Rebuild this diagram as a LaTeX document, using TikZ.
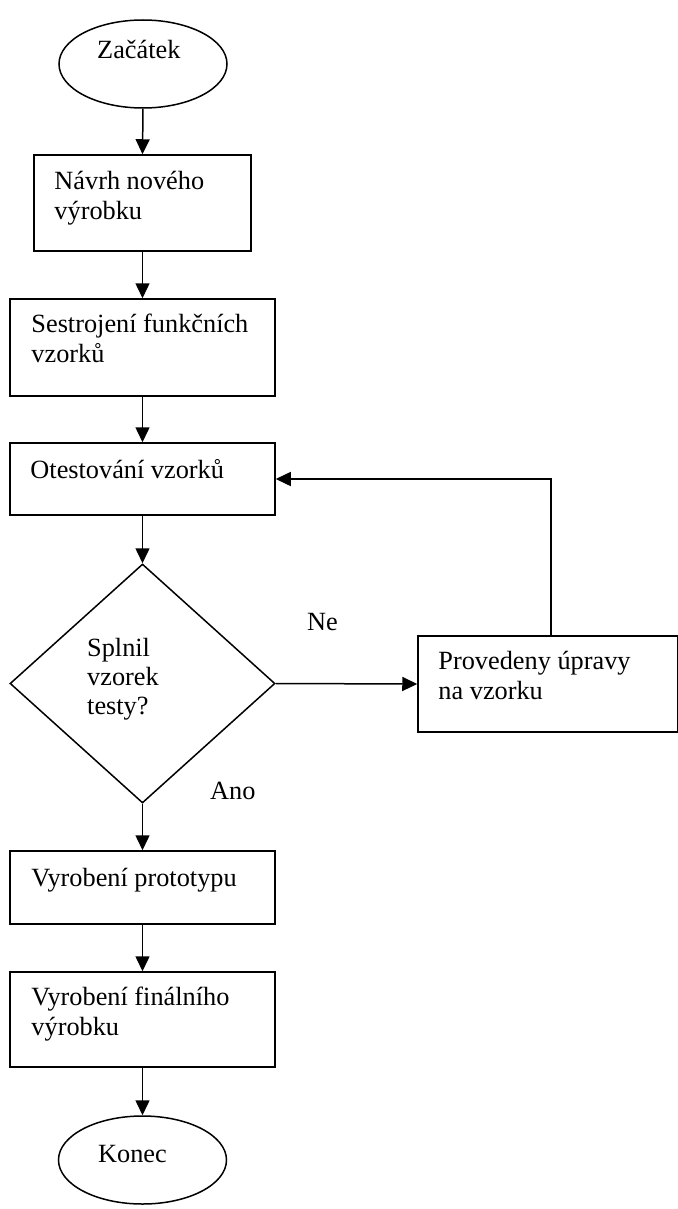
\documentclass[tikz,border=0pt]{standalone}
\usepackage{fontspec}
\setmainfont{Liberation Serif}
\usetikzlibrary{arrows.meta,shapes.geometric}
\begin{document}
\begin{tikzpicture}[x=1pt,y=-1pt,
  box/.style={draw, line width=1.5pt, rectangle, inner sep=0pt},
  term/.style={draw, line width=1.5pt, ellipse, inner sep=0pt, minimum width=168pt, minimum height=88pt},
  dec/.style={draw, line width=1.5pt, diamond, inner sep=0pt},
  txt/.style={anchor=base west, inner sep=0pt, align=left, font=\fontsize{26.3}{30}\selectfont},
  arr/.style={line width=1.5pt, -{Triangle[width=14pt,length=15pt]}}
]
\useasboundingbox (0,0) rectangle (677,1209);

% shapes
\node[term] (s) at (143,64) {};
\node[box, minimum width=217pt, minimum height=96pt] (b1) at (142.5,203) {};
\node[box, minimum width=265pt, minimum height=97pt] (b2) at (142.5,347.5) {};
\node[box, minimum width=265pt, minimum height=72pt] (b3) at (142.5,479) {};
\node[dec, minimum width=265pt, minimum height=239pt] (d) at (142.5,683.5) {};
\node[box, minimum width=260pt, minimum height=96pt] (p) at (548,684) {};
\node[box, minimum width=265pt, minimum height=73pt] (b4) at (142.5,887.5) {};
\node[box, minimum width=265pt, minimum height=95pt] (b5) at (142.5,1019.5) {};
\node[term] (e) at (142.5,1160) {};

% texts (anchor = baseline of the last line)
\node[txt] (ts) at (97,59) {Začátek};
\node[txt] (t1) at ([xshift=21pt,yshift=-65pt]b1.north west) {Návrh nového\\výrobku};
\node[txt] (t2) at ([xshift=22pt,yshift=-64pt]b2.north west) {Sestrojení funkčních\\vzorků};
\node[txt] (t3) at ([xshift=21pt,yshift=-36pt]b3.north west) {Otestování vzorků};
\node[txt, font=\fontsize{26.3}{29}\selectfont] (td) at (87,714) {Splnil\\vzorek\\testy?};
\node[txt] (tp) at ([xshift=21pt,yshift=-64pt]p.north west) {Provedeny úpravy\\na vzorku};
\node[txt] (t4) at ([xshift=22pt,yshift=-36pt]b4.north west) {Vyrobení prototypu};
\node[txt] (t5) at ([xshift=22pt,yshift=-64pt]b5.north west) {Vyrobení finálního\\výrobku};
\node[txt] (te) at (98,1162) {Konec};
\node[txt] (ne) at (307,630) {Ne};
\node[txt] (ano) at (210,799) {Ano};

% connectors
\draw[arr] (s.south) -- (b1.north);
\draw[arr] (b1.south) -- (b2.north);
\draw[arr] (b2.south) -- (b3.north);
\draw[arr] (b3.south) -- (d.north);
\draw[arr] (d.east) -- (p.west);
\draw[arr] ([xshift=3pt]p.north) |- (b3.east);
\draw[arr] (d.south) -- (b4.north);
\draw[arr] (b4.south) -- (b5.north);
\draw[arr] (b5.south) -- (e.north);
\end{tikzpicture}
\end{document}
